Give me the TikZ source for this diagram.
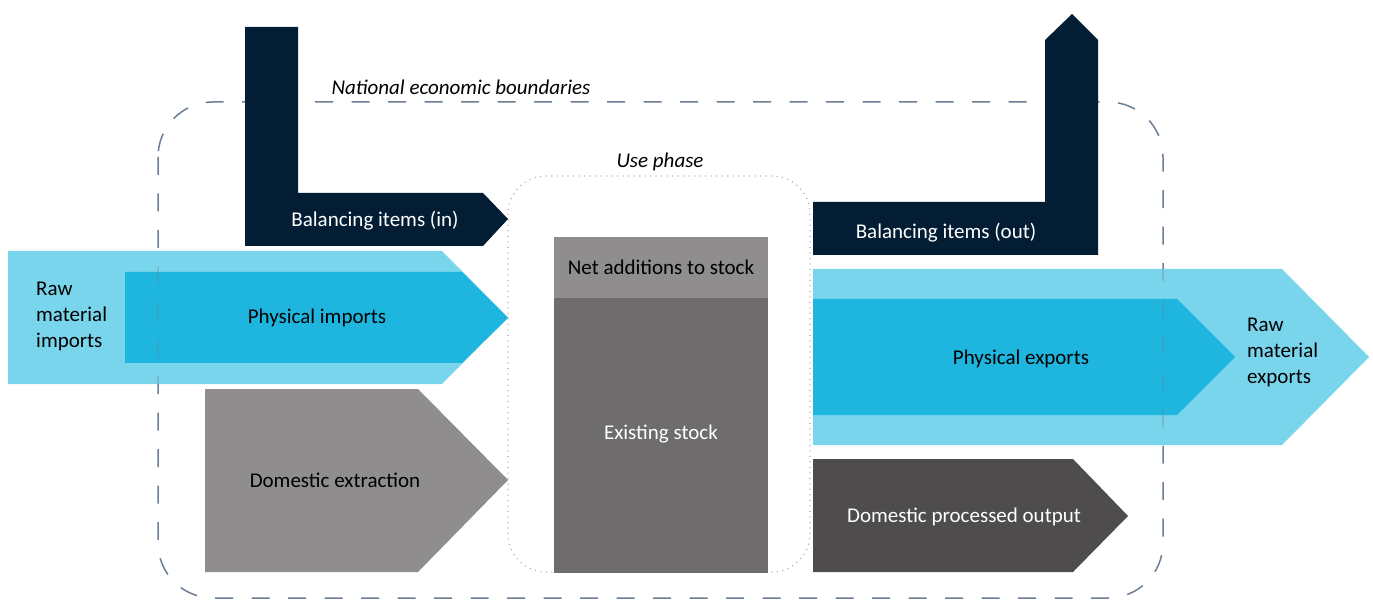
\documentclass[tikz,border=0pt]{standalone}
\usepackage{fontspec}
\setmainfont{Carlito}
\definecolor{lblue}{HTML}{79D5EC}
\definecolor{dblue}{HTML}{1EB6DF}
\definecolor{navy}{HTML}{031E34}
\definecolor{greyA}{HTML}{8F8D8E}
\definecolor{greyB}{HTML}{6E6C6D}
\definecolor{greyC}{HTML}{4E4C4D}
\definecolor{bound}{HTML}{6B7E95}
\definecolor{dotc}{HTML}{B9A3AC}
\begin{document}
\begin{tikzpicture}[x=1pt,y=-1pt,
  lbl/.style={font=\fontsize{21}{26}\selectfont, inner sep=0pt, align=center},
  lblw/.style={lbl, text=white},
  boundline/.style={draw=bound, line width=1.5pt, dash pattern=on 18pt off 18.5pt, rounded corners=55pt},
  usebox/.style={draw=dotc, line width=1.2pt, dash pattern=on 1pt off 4.5pt, rounded corners=38pt},
  ital/.style={font=\fontsize{21}{26}\selectfont\itshape, inner sep=0pt}]
\useasboundingbox (0,0) rectangle (1373,601);

% national boundary (under)
\draw[boundline] (158,102) rectangle (1163,598);

% use phase
\draw[usebox] (508,176) rectangle (810,572);

% imports
\fill[lblue] (8,251) -- (442,251) -- (508,317.5) -- (442,384) -- (8,384) -- cycle;
\fill[dblue] (125,272) -- (462,272) -- (508,318) -- (462,363) -- (125,363) -- cycle;

% exports
\fill[lblue] (813,269) -- (1282,269) -- (1369,357) -- (1282,445) -- (813,445) -- cycle;
\fill[dblue] (813,299) -- (1177,299) -- (1235,357) -- (1177,415) -- (813,415) -- cycle;

% boundary faintly over blue arrows
\begin{scope}
\clip (8,251) -- (442,251) -- (508,317.5) -- (442,384) -- (8,384) -- cycle
      (813,269) -- (1282,269) -- (1369,357) -- (1282,445) -- (813,445) -- cycle;
\draw[boundline, draw opacity=0.35] (158,102) rectangle (1163,598);
\end{scope}

% balancing items
\fill[navy] (245,27) -- (298,27) -- (298,193) -- (483,193) -- (508,219) -- (483,246) -- (245,246) -- cycle;
\fill[navy] (813,202) -- (1045,202) -- (1045,40) -- (1072,14) -- (1098,40) -- (1098,255) -- (813,255) -- cycle;

% domestic extraction
\fill[greyA] (205,389) -- (418,389) -- (508,480) -- (418,572) -- (205,572) -- cycle;

% stock
\fill[greyA] (554,237) rectangle (768,298);
\fill[greyB] (554,298) rectangle (768,573);

% DPO
\fill[greyC] (813,459) -- (1073,459) -- (1128,516) -- (1073,572) -- (813,572) -- cycle;

% labels
\node[ital] (nat) at (461,87.5) {National economic boundaries};
\node[ital] (use) at (660,161.5) {Use phase};
\node[lblw] (bin) at (375,220.5) {Balancing items (in)};
\node[lbl, align=left, anchor=west] (rmi) at (36,316.5) {Raw\\material\\imports};
\node[lbl] (pim) at (317,317.5) {Physical imports};
\node[lbl] (dex) at (335,480.5) {Domestic extraction};
\node[lbl] (nas) at (661,267.5) {Net additions to stock};
\node[lblw] (exs) at (661,434.5) {Existing stock};
\node[lblw] (bout) at (946,232.5) {Balancing items (out)};
\node[lbl] (pex) at (1021,358.5) {Physical exports};
\node[lbl, align=left, anchor=west] (rme) at (1247,352.5) {Raw\\material\\exports};
\node[lblw] (dpo) at (964,516.5) {Domestic processed output};
\end{tikzpicture}
\end{document}
